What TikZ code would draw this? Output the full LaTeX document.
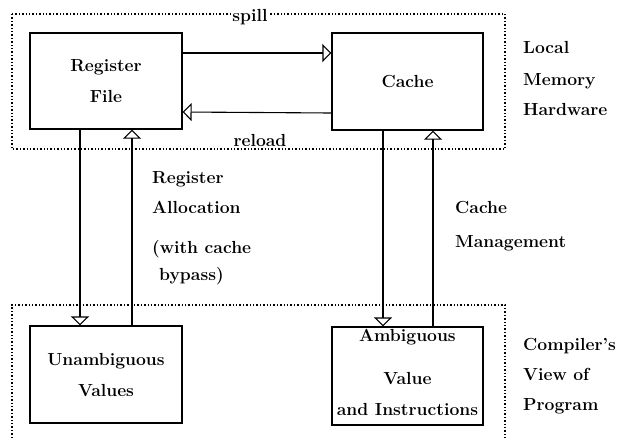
\documentclass[tikz,border=0pt]{standalone}
\usetikzlibrary{arrows.meta}
\begin{document}
\begin{tikzpicture}[x=1pt,y=-1pt,
  txt/.style={font=\fontsize{17.5}{31}\selectfont\bfseries, inner sep=0pt},
  blk/.style={txt, draw, line width=1.2pt, align=center},
  lbl/.style={txt, anchor=base west, align=left},
  arr/.style={line width=1.1pt, -{Triangle[open,width=18pt,length=9pt]}},
  region/.style={dotted, line width=1.4pt}]
\useasboundingbox (0,0) rectangle (621,440);
% regions
\draw[region] (12,14) rectangle (505,149);
\draw[region] (12,438) -- (12,305) -- (505,305) -- (505,438);
% boxes
\node[blk, minimum width=152pt, minimum height=96pt] (rf) at (106,81) {Register\\File};
\node[blk, minimum width=151pt, minimum height=97pt] (cache) at (407.5,81.5) {Cache};
\node[blk, minimum width=152pt, minimum height=97pt] (unamb) at (106,374.5) {Unambiguous\\Values};
\node[blk, minimum width=151pt, minimum height=98pt] (amb) at (407.5,376) {Ambiguous\\[12pt]Value\\and Instructions\\[-23pt]\mbox{}};
% horizontal arrows
\draw[arr] ([yshift=28pt]rf.east) -- ([yshift=28.5pt]cache.west);
\draw[arr] ([yshift=-31.5pt]cache.west) -- ([yshift=-31pt]rf.east);
% vertical arrows
\draw[arr] ([xshift=-26pt]rf.south) -- ([xshift=-26pt]unamb.north);
\draw[arr] ([xshift=26pt]unamb.north) -- ([xshift=26pt]rf.south);
\draw[arr] ([xshift=-24.5pt]cache.south) -- ([xshift=-24.5pt]amb.north);
\draw[arr] ([xshift=25.5pt]amb.north) -- ([xshift=25.5pt]cache.south);
% arrow labels
\node[txt, fill=white, inner sep=1pt] (spill) at (250,17) {spill};
\node[txt, anchor=base] (reload) at (260,146) {reload};
\node[lbl] (regalloc) at (152,280) {Register\\[-1pt]Allocation\\[9pt](with cache\\[-4pt]\hspace{7pt}bypass)};
\node[lbl] (cachemgmt) at (455,247) {Cache\\[3pt]Management};
% side labels
\node[lbl] (lmh) at (523,115) {Local\\[1pt]Memory\\[-1pt]Hardware};
\node[lbl] (cvp) at (523,410) {Compiler's\\[-1pt]View of\\[-1pt]Program};
\end{tikzpicture}
\end{document}
